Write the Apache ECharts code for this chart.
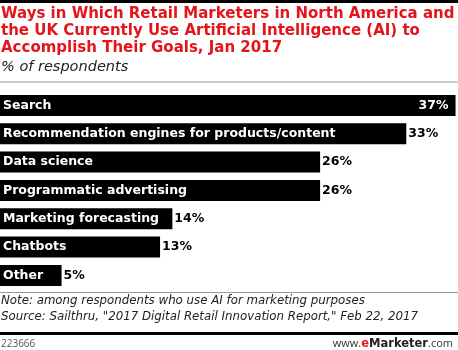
<!DOCTYPE html>
<html>
<head>
<meta charset="utf-8">
<style>
  html, body { margin: 0; padding: 0; background: #fff; }
  #chart { width: 458px; height: 350px; }
</style>
<script src="https://cdn.jsdelivr.net/npm/echarts@6/dist/echarts.min.js"></script>
</head>
<body>
<div id="chart"></div>
<script>
// AI uses among retail marketers, % of respondents
const categories = [
  'Search',
  'Recommendation engines for products/content',
  'Data science',
  'Programmatic advertising',
  'Marketing forecasting',
  'Chatbots',
  'Other'
];
const values = [37, 33, 26, 26, 14, 13, 5];

const titleLines = [
  'Ways in Which Retail Marketers in North America and',
  'the UK Currently Use Artificial Intelligence (AI) to',
  'Accomplish Their Goals, Jan 2017'
];
const subtitle = '% of respondents';
const noteLines = [
  'Note: among respondents who use AI for marketing purposes',
  'Source: Sailthru, "2017 Digital Retail Innovation Report," Feb 22, 2017'
];
const chartId = '223666';

const BOLD = '"DejaVu Sans", Verdana, sans-serif';
const ITAL = '"DejaVu Sans", Verdana, sans-serif';

const chart = echarts.init(document.getElementById('chart'));

const valueLabels = values.map((v, i) => ({
  value: v,
  label: i === 0
    ? { position: 'insideRight', color: '#fff', offset: [-2, 0] }
    : { position: 'right', color: '#000', distance: 2 }
}));

const graphics = [
  { type: 'rect', shape: { x: 0, y: 0, width: 458, height: 3 }, style: { fill: '#000' } },
  { type: 'rect', shape: { x: 0, y: 81.5, width: 458, height: 1 }, style: { fill: '#999' } },
  { type: 'rect', shape: { x: 0, y: 292, width: 458, height: 1 }, style: { fill: '#999' } },
  { type: 'rect', shape: { x: 0, y: 332, width: 458, height: 3 }, style: { fill: '#000' } },
  {
    type: 'text', left: 1, top: 339,
    style: { text: chartId, font: '10px "Open Sans", sans-serif', fill: '#555' }
  },
  {
    type: 'text', right: 5, top: 338,
    style: {
      text: '{a|www.}{b|e}{c|Marketer}{a|.com}',
      rich: {
        a: { font: '11px "Open Sans", sans-serif', fill: '#333' },
        b: { font: 'bold 11.5px ' + BOLD, fill: '#e4141b' },
        c: { font: 'bold 11.5px ' + BOLD, fill: '#222' }
      }
    }
  }
];

titleLines.forEach((t, i) => {
  graphics.push({
    type: 'text', left: 1, top: 6.5 + i * 17,
    style: { text: t, font: 'bold 15px ' + BOLD, fill: '#e4141b' }
  });
});
graphics.push({
  type: 'text', left: 1, top: 60,
  style: { text: subtitle, font: 'oblique 14.5px ' + ITAL, fill: '#222' }
});
noteLines.forEach((t, i) => {
  graphics.push({
    type: 'text', left: 1, top: 294.5 + i * 16,
    style: { text: t, font: 'oblique 11.8px ' + ITAL, fill: '#222' }
  });
});

chart.setOption({
  animation: false,
  grid: { left: 0, right: 0, top: 91.3, bottom: 60.4, containLabel: false },
  xAxis: { type: 'value', min: 0, max: 37.2, show: false },
  yAxis: {
    type: 'category', data: categories, inverse: true, show: false
  },
  series: [
    {
      type: 'bar',
      data: values,
      barWidth: 21,
      itemStyle: { color: '#000' },
      label: {
        show: true,
        position: 'insideLeft',
        distance: 3,
        formatter: p => p.name,
        color: '#fff',
        fontFamily: BOLD, fontWeight: 'bold', fontSize: 12.5
      },
      z: 2
    },
    {
      type: 'bar',
      data: valueLabels,
      barWidth: 21,
      barGap: '-100%',
      itemStyle: { color: 'transparent' },
      label: {
        show: true,
        formatter: p => p.value + '%',
        fontFamily: BOLD, fontWeight: 'bold', fontSize: 12.5
      },
      z: 3
    }
  ],
  graphic: graphics
});
</script>
</body>
</html>
